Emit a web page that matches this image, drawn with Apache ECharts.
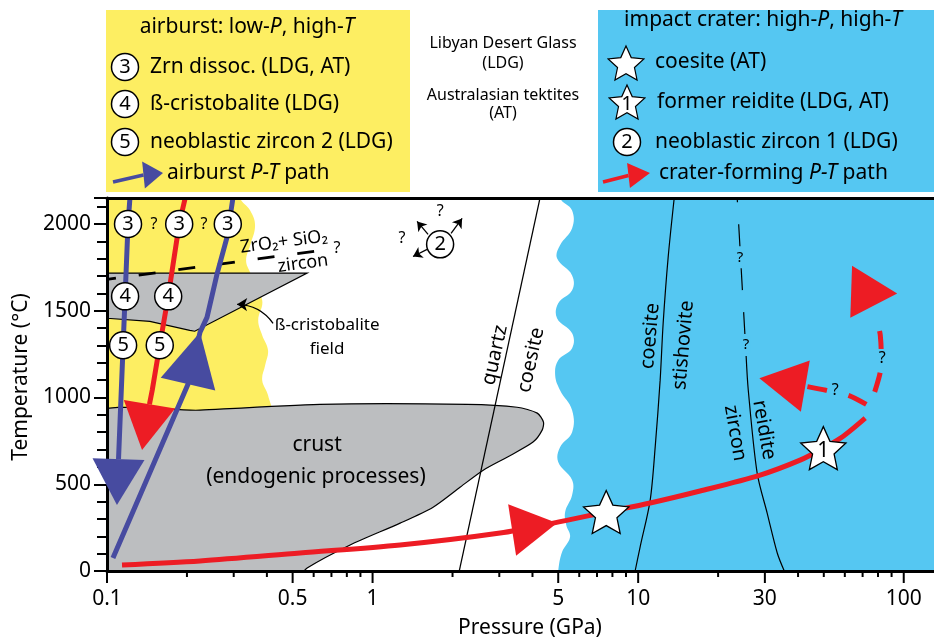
<!DOCTYPE html>
<html>
<head>
<meta charset="utf-8">
<title>P-T diagram</title>
<script src="https://cdn.jsdelivr.net/npm/echarts@6.0.0/dist/echarts.min.js"></script>
<style>
html,body{margin:0;padding:0;background:#ffffff;}
#chart{width:934px;height:639px;}
</style>
</head>
<body>
<div id="chart"></div>
<script>
// ================= DATA (pressure P in GPa, temperature T in °C) =================
const xTickLabels = [0.1, 0.5, 1, 5, 10, 30, 100];
const xMinorTicks = [0.2, 0.3, 0.4, 0.6, 0.7, 0.8, 0.9, 2, 3, 4, 6, 7, 8, 9, 20, 40, 50, 60, 70, 80, 90];
const yTickLabels = [0, 500, 1000, 1500, 2000];

// fields (polygons)
const airburstField = [[0.085,2250],[0.317,2250],[0.317,2150],[0.346,2078],[0.361,1992],[0.346,1877],[0.334,1790],[0.346,1721],[0.384,1560],[0.371,1445],[0.384,1359],[0.404,1272],[0.394,1186],[0.384,1100],[0.404,1013],[0.411,900],[0.3,850],[0.085,850]];
const craterField = [[5.08,2250],[5.08,2150],[5.64,2078],[5.64,1975],[5.08,1877],[4.95,1802],[5.64,1704],[5.64,1618],[5.0,1543],[4.95,1457],[5.64,1370],[5.64,1284],[5.0,1215],[4.87,1128],[5.08,1042],[5.64,927],[5.64,800],[5.08,714],[5.0,628],[5.64,524],[5.64,438],[5.31,340],[5.36,265],[5.54,196],[5.17,109],[5.0,0],[5.0,-60],[200,-60],[200,2250]];
const crustField = [[0.085,890],[0.224,927],[0.634,961],[2.27,961],[3.50,944],[4.17,910],[4.40,858],[4.35,812],[4.02,743],[3.21,656],[2.61,581],[2.14,484],[1.69,368],[1.27,276],[0.823,150],[0.567,17],[0.5,-60],[0.085,-60]];
const cristobaliteField = [[0.1,1717],[0.567,1717],[0.214,1382],[0.205,1387],[0.145,1439],[0.1,1457]];

// phase boundaries
const zrnDissocLine = [[0.1,1681],[0.64,1848]];
const quartzCoesiteLine = [[2.12,0],[4.27,2150]];
const coesiteStishoviteLine = [[9.74,0],[10.17,138],[11.1,409],[11.59,714],[12.1,1100],[12.42,1428],[12.97,1808],[13.67,2150]];
const zirconReiditeSolid = [[35.5,0],[33.4,104],[30.6,334],[28.06,564],[25.98,1042],[25.5,1239]];
const zirconReiditeDashed = [[25.5,1239],[23.6,2150]];

// P-T paths
const airburstPathA = [[0.122,2150],[0.120,2000],[0.117,1583],[0.115,1301],[0.1105,645]];
const airburstPathB = [[0.1053,75],[0.2018,1077],[0.224,1376],[0.238,1462],[0.26,1716],[0.283,1923],[0.298,2150]];
const airburstPathC = [[0.197,2150],[0.187,2000],[0.170,1583],[0.158,1301],[0.148,1042],[0.1445,961]];
const craterPath = [[0.1139,35],[0.224,58],[0.533,104],[1.27,150],[3.02,219],[4.786,276],[7.58,340],[11.1,392],[17.1,461],[28.8,553],[40.7,639],[49.8,708],[59.2,777],[71.6,881]];
const craterPathUp = [[72.3,927],[78.1,1042],[82.3,1215],[81.6,1359],[79.4,1433]];
const craterPathBack = [[72.3,960],[61.8,1013],[51.0,1042],[42.6,1065]];

// arrowheads: [tip P, tip T, base P, base T]
const navyArrows = [[0.109,380,0.1105,645],[0.224,1376,0.2018,1077]];
const redArrows = [[0.1355,697,0.1445,961],[4.95,276,3.353,236],[94.5,1600,63.4,1609],[28.6,1111,42.6,1065]];

// markers
const zirconCircles = [[0.120,2000,'3'],[0.187,2000,'3'],[0.285,2000,'3'],[0.117,1583,'4'],[0.170,1583,'4'],[0.115,1301,'5'],[0.158,1301,'5'],[1.796,1883,'2']];
const coesiteStars = [[7.58,340,''],[49.8,708,'1']];
const zircon2Arrows = [[[1.618,1940],[1.471,2015]],[[1.975,1946],[2.173,2032]],[[1.604,1854],[1.42,1813]]];
const cristobalitePointer = [[0.422,1428],[0.309,1537]];

// ================= STYLE =================
const FONT = '"Noto Sans", "DejaVu Sans", sans-serif';
const YELLOW = '#FDEE62', BLUE = '#55C7F2', GRAY = '#BCBEC0', RED = '#ED1C24', NAVY = '#474BA0';

const annotations = [
  {p:0.618, t:726, text:'crust', size:21},
  {p:0.612, t:542, text:'(endogenic processes)', size:21},
  {p:0.674, t:1418, text:'ß-cristobalite', size:17},
  {p:0.674, t:1280, text:'field', size:17},
  {p:0.464, t:1897, text:'ZrO₂+ SiO₂', size:18, rot:7.5},
  {p:0.547, t:1772, text:'zircon', size:18, rot:7.5},
  {p:0.735, t:1862, text:'?', size:16},
  {p:2.89, t:1245, text:'quartz', size:20, rot:77.7},
  {p:3.95, t:1216, text:'coesite', size:20, rot:77.7},
  {p:11.1, t:1354, text:'coesite', size:20, rot:85},
  {p:14.8, t:1302, text:'stishovite', size:20, rot:85},
  {p:23.2, t:795, text:'zircon', size:20, rot:-80},
  {p:29.8, t:813, text:'reidite', size:20, rot:-80},
  {p:24.2, t:1804, text:'?', size:15, bg:BLUE},
  {p:25.5, t:1302, text:'?', size:15, bg:BLUE},
  {p:83.0, t:1228, text:'?', size:16, bg:BLUE},
  {p:55.2, t:1043, text:'?', size:16, bg:BLUE},
  {p:0.1503, t:2000, text:'?', size:16},
  {p:0.2319, t:2000, text:'?', size:16},
  {p:1.796, t:2075, text:'?', size:16},
  {p:1.291, t:1919, text:'?', size:16}
];

function starPoints(cx, cy, R, r) {
  const pts = [];
  for (let i = 0; i < 10; i++) {
    const a = -Math.PI / 2 + i * Math.PI / 5;
    const rad = i % 2 === 0 ? R : r;
    pts.push([cx + rad * Math.cos(a), cy + rad * Math.sin(a)]);
  }
  return pts;
}

function polySeries(pts, fill, stroke, lw, z, smooth) {
  return {
    type: 'custom', coordinateSystem: 'cartesian2d', xAxisIndex: 0, yAxisIndex: 0,
    data: pts, encode: {x: 0, y: 1}, clip: true, z: z, silent: true,
    renderItem: function (params, api) {
      if (params.dataIndex !== 0) return null;
      const points = pts.map(function (p) { return api.coord(p); });
      return {type: 'polygon', shape: {points: points, smooth: smooth || 0},
        style: {fill: fill, stroke: stroke || null, lineWidth: lw || 0}};
    }
  };
}

function lineSeries(data, color, width, z, extra) {
  const s = {type: 'line', data: data, showSymbol: false, symbol: 'none', silent: true, z: z,
    xAxisIndex: 0, yAxisIndex: 0, clip: true,
    lineStyle: {color: color, width: width}};
  if (extra) {
    if (extra.smooth) s.smooth = extra.smooth;
    if (extra.dash) s.lineStyle.type = extra.dash;
    if (extra.dashOffset) s.lineStyle.dashOffset = extra.dashOffset;
  }
  return s;
}

function arrowSeries(arrows, color, halfW, z) {
  return {
    type: 'custom', coordinateSystem: 'cartesian2d', xAxisIndex: 0, yAxisIndex: 0,
    data: arrows, encode: {x: 0, y: 1}, clip: false, z: z, silent: true,
    renderItem: function (params, api) {
      const tip = api.coord([api.value(0), api.value(1)]);
      const base = api.coord([api.value(2), api.value(3)]);
      const dx = tip[0] - base[0], dy = tip[1] - base[1];
      const L = Math.sqrt(dx * dx + dy * dy);
      const hw = Array.isArray(halfW) ? halfW[params.dataIndex] : halfW;
      const nx = -dy / L * hw, ny = dx / L * hw;
      return {type: 'polygon', shape: {points: [tip, [base[0] + nx, base[1] + ny], [base[0] - nx, base[1] - ny]]},
        style: {fill: color}};
    }
  };
}

const xTickData = xTickLabels.map(function (v) { return [v, 0, 1]; })
  .concat(xMinorTicks.map(function (v) { return [v, 0, 0]; }));

const series = [
  polySeries(airburstField, YELLOW, null, 0, 1, 0.4),
  polySeries(craterField, BLUE, null, 0, 1, 0.4),
  polySeries(crustField, GRAY, '#000', 1.2, 2, 0.25),
  polySeries(cristobaliteField, GRAY, '#000', 1.2, 2, 0),
  lineSeries(zrnDissocLine, '#000', 2.8, 3, {dash: [17, 23], dashOffset: 8}),
  lineSeries(quartzCoesiteLine, '#000', 1.2, 3),
  lineSeries(coesiteStishoviteLine, '#000', 1.2, 3, {smooth: 0.3}),
  lineSeries(zirconReiditeSolid, '#000', 1.2, 3, {smooth: 0.3}),
  lineSeries(zirconReiditeDashed, '#000', 1.2, 3, {dash: [22, 22], dashOffset: 22}),
  lineSeries(airburstPathA, NAVY, 5, 4),
  lineSeries(airburstPathB, NAVY, 5, 4),
  lineSeries(airburstPathC, RED, 5, 4),
  lineSeries(craterPath, RED, 5, 4, {smooth: 0.3}),
  lineSeries(craterPathUp, RED, 5, 4, {smooth: 0.4, dash: [20, 22], dashOffset: 22}),
  lineSeries(craterPathBack, RED, 5, 4, {smooth: 0.3, dash: [20, 22]}),
  arrowSeries(navyArrows, NAVY, [26, 28], 6),
  arrowSeries(redArrows, RED, 26, 6),
  {
    type: 'lines', coordinateSystem: 'cartesian2d', xAxisIndex: 0, yAxisIndex: 0, z: 8, silent: true,
    symbol: ['none', 'arrow'], symbolSize: 9,
    lineStyle: {color: '#000', width: 1.3, opacity: 1, curveness: 0},
    data: zircon2Arrows.map(function (c) { return {coords: c}; })
  },
  {
    type: 'lines', coordinateSystem: 'cartesian2d', xAxisIndex: 0, yAxisIndex: 0, z: 8, silent: true,
    symbol: ['none', 'arrow'], symbolSize: 10,
    lineStyle: {color: '#000', width: 1.3, opacity: 1, curveness: -0.25},
    data: [{coords: cristobalitePointer}]
  },
  {
    type: 'scatter', xAxisIndex: 0, yAxisIndex: 0, z: 7, silent: true,
    data: zirconCircles, symbol: 'circle', symbolSize: 27,
    itemStyle: {color: '#fff', borderColor: '#000', borderWidth: 1.5, opacity: 1},
    label: {show: true, position: 'inside', fontSize: 20, fontFamily: FONT, color: '#000',
      formatter: function (p) { return p.data[2]; }}
  },
  {
    type: 'custom', coordinateSystem: 'cartesian2d', xAxisIndex: 0, yAxisIndex: 0,
    data: coesiteStars, encode: {x: 0, y: 1}, clip: false, z: 7, silent: true,
    renderItem: function (params, api) {
      const c = api.coord([api.value(0), api.value(1)]);
      const R = 23.8, cy = c[1] + 0.095 * R;
      const children = [{type: 'polygon', shape: {points: starPoints(c[0], cy, R, 11.3)},
        style: {fill: '#fff', stroke: '#000', lineWidth: 1.3}}];
      const lbl = coesiteStars[params.dataIndex][2];
      if (lbl) children.push({type: 'text', x: c[0], y: cy + 1,
        style: {text: lbl, align: 'center', verticalAlign: 'middle', fontSize: 21, fontFamily: FONT, fill: '#000'}});
      return {type: 'group', children: children};
    }
  },
  {
    type: 'custom', coordinateSystem: 'cartesian2d', xAxisIndex: 0, yAxisIndex: 0,
    data: annotations.map(function (a) { return [a.p, a.t]; }), encode: {x: 0, y: 1}, clip: false, z: 9, silent: true,
    renderItem: function (params, api) {
      const a = annotations[params.dataIndex];
      const c = api.coord([api.value(0), api.value(1)]);
      const st = {text: a.text, align: 'center', verticalAlign: 'middle', fontSize: a.size, fontFamily: FONT, fill: '#000'};
      if (a.bg) { st.backgroundColor = a.bg; st.padding = [1, 1]; }
      return {type: 'text', x: c[0], y: c[1], rotation: (a.rot || 0) * Math.PI / 180, style: st};
    }
  },
  {
    type: 'custom', coordinateSystem: 'cartesian2d', xAxisIndex: 0, yAxisIndex: 0,
    data: xTickData, encode: {x: 0, y: 1}, clip: false, z: 10, silent: true,
    renderItem: function (params, api) {
      const v = api.value(0), major = api.value(2);
      const p = api.coord([v, 0]);
      const len = major ? 12 : 6;
      const ch = [{type: 'line', shape: {x1: p[0], y1: p[1], x2: p[0], y2: p[1] + len},
        style: {stroke: '#000', lineWidth: 2}}];
      if (major) ch.push({type: 'text', x: p[0], y: p[1] + 28,
        style: {text: String(v), align: 'center', verticalAlign: 'middle', fontSize: 21, fontFamily: FONT, fill: '#000'}});
      return {type: 'group', children: ch};
    }
  }
];

// ================= LEGEND GRAPHICS =================
function gText(x, y, text, size, opts) {
  const st = {text: text, fontSize: size, fontFamily: FONT, fill: '#000',
    align: (opts && opts.align) || 'left', verticalAlign: 'middle'};
  if (opts && opts.rich) st.rich = opts.rich;
  return {type: 'text', x: x, y: y, rotation: (opts && opts.rot) || 0, style: st, z: 11, silent: true};
}
const richPT = {
  n: {fontSize: 21, fontFamily: FONT, fill: '#000'},
  i: {fontSize: 21, fontFamily: FONT, fill: '#000', fontStyle: 'italic'}
};
function gCircle(cx, cy, num) {
  return [
    {type: 'circle', shape: {cx: cx, cy: cy, r: 13.5}, style: {fill: '#fff', stroke: '#000', lineWidth: 1.5}, z: 10, silent: true},
    gText(cx, cy + 0.5, num, 20, {align: 'center'})
  ];
}
function gStar(cx, cy, num) {
  const R = 18.8, gy = cy + 0.095 * R;
  const arr = [{type: 'polygon', shape: {points: starPoints(cx, gy, R, 8.9)}, style: {fill: '#fff', stroke: '#000', lineWidth: 1.2}, z: 10, silent: true}];
  if (num) arr.push(gText(cx, gy + 1, num, 20, {align: 'center'}));
  return arr;
}
function gArrow(x1, y1, bx, by, tx, ty, hw, color) {
  const dx = tx - bx, dy = ty - by, L = Math.sqrt(dx * dx + dy * dy);
  const nx = -dy / L * hw, ny = dx / L * hw;
  return [
    {type: 'line', shape: {x1: x1, y1: y1, x2: bx, y2: by}, style: {stroke: color, lineWidth: 3.5}, z: 10, silent: true},
    {type: 'polygon', shape: {points: [[tx, ty], [bx + nx, by + ny], [bx - nx, by - ny]]}, style: {fill: color}, z: 10, silent: true}
  ];
}

const graphic = [].concat(
  [{type: 'rect', shape: {x: 106, y: 10, width: 304, height: 182}, style: {fill: YELLOW}, z: 5, silent: true},
   {type: 'rect', shape: {x: 598, y: 10, width: 336, height: 182}, style: {fill: BLUE}, z: 5, silent: true}],
  [gText(247, 27, '{n|airburst: low-}{i|P}{n|, high-}{i|T}', 21, {align: 'center', rich: richPT})],
  gCircle(125, 67, '3'), [gText(150, 67, 'Zrn dissoc. (LDG, AT)', 21)],
  gCircle(125, 104, '4'), [gText(150, 104, 'ß-cristobalite (LDG)', 21)],
  gCircle(125, 142, '5'), [gText(150, 142, 'neoblastic zircon 2 (LDG)', 21)],
  gArrow(113, 182, 143.5, 175, 163, 173, 13.5, NAVY), [gText(167, 173, '{n|airburst }{i|P-T}{n| path}', 21, {rich: richPT})],
  [gText(763, 20, '{n|impact crater: high-}{i|P}{n|, high-}{i|T}', 21, {align: 'center', rich: richPT})],
  gStar(626, 63, ''), [gText(655, 62, 'coesite (AT)', 21)],
  gStar(627, 102, '1'), [gText(657, 102, 'former reidite (LDG, AT)', 21)],
  gCircle(627, 142, '2'), [gText(655, 142, 'neoblastic zircon 1 (LDG)', 21)],
  gArrow(603, 182, 628.5, 175.5, 650, 173, 12.5, RED), [gText(659, 173, '{n|crater-forming }{i|P-T}{n| path}', 21, {rich: richPT})],
  [gText(503, 43, 'Libyan Desert Glass', 16, {align: 'center'}),
   gText(503, 63, '(LDG)', 16, {align: 'center'}),
   gText(503, 95, 'Australasian tektites', 16, {align: 'center'}),
   gText(503, 113, '(AT)', 16, {align: 'center'})],
  [gText(530, 628, 'Pressure (GPa)', 21, {align: 'center'}),
   gText(21, 377, 'Temperature (°C)', 21, {align: 'center', rot: Math.PI / 2})]
);

const option = {
  animation: false,
  backgroundColor: '#ffffff',
  grid: {left: 107, right: 0, top: 198, bottom: 68, containLabel: false, outerBoundsMode: 'none'},
  xAxis: [
    {type: 'log', logBase: 10, min: 0.1, max: 130, position: 'bottom', z: 5,
      axisLine: {show: true, onZero: false, lineStyle: {color: '#000', width: 3}},
      axisTick: {show: false}, axisLabel: {show: false}, splitLine: {show: false}, minorTick: {show: false}},
    {type: 'log', logBase: 10, min: 0.1, max: 130, position: 'top', z: 5,
      axisLine: {show: true, onZero: false, lineStyle: {color: '#000', width: 3}},
      axisTick: {show: false}, axisLabel: {show: false}, splitLine: {show: false}}
  ],
  yAxis: [
    {type: 'value', min: 0, max: 2150, interval: 100, position: 'left', z: 5,
      axisLine: {show: true, onZero: false, lineStyle: {color: '#000', width: 3}},
      axisTick: {show: true, inside: false, length: 10, lineStyle: {color: '#000', width: 2}},
      axisLabel: {show: true, margin: 16, fontSize: 21, fontFamily: FONT, color: '#000',
        formatter: function (v) { return yTickLabels.indexOf(v) >= 0 ? String(v) : ''; }},
      splitLine: {show: false}},
    {type: 'value', min: 0, max: 2150, interval: 500, position: 'left', z: 5,
      axisLine: {show: false}, axisTick: {show: true, length: 13, lineStyle: {color: '#000', width: 2}},
      axisLabel: {show: false}, splitLine: {show: false}}
  ],
  series: series,
  graphic: graphic
};

const chart = echarts.init(document.getElementById('chart'), null, {renderer: 'canvas'});
chart.setOption(option);
</script>
</body>
</html>
